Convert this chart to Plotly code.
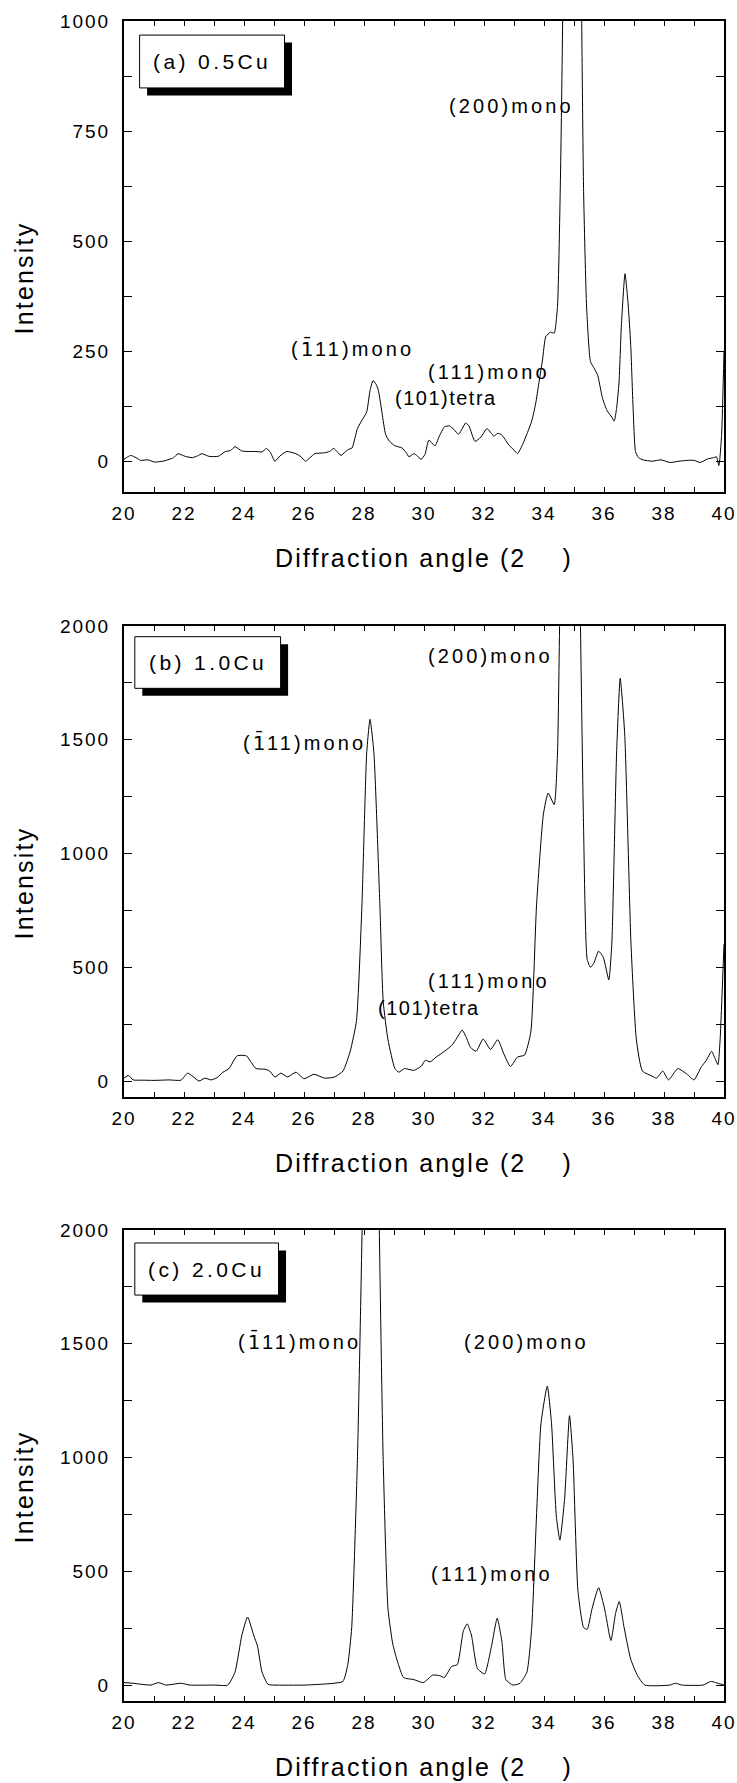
import plotly.graph_objects as go

# ---------------- data ----------------
ANGLE_A = [20.0, 20.12, 20.24, 20.4, 20.55, 20.8, 21.02, 21.3, 21.5, 21.65, 21.8, 22.04, 22.28, 22.45, 22.6,
           22.83, 23.14, 23.38, 23.55, 23.7, 23.93, 24.2, 24.4, 24.6, 24.75, 24.88, 25.03, 25.2, 25.42, 25.73,
           25.9, 26.05, 26.2, 26.36, 26.68, 26.85, 26.99, 27.1, 27.23, 27.46, 27.6, 27.78, 27.95, 28.09, 28.2,
           28.3, 28.4, 28.48, 28.6, 28.72, 28.85, 29.03, 29.27, 29.4, 29.5, 29.66, 29.78, 29.9, 30.03, 30.16,
           30.25, 30.37, 30.5, 30.68, 30.85, 31.0, 31.15, 31.28, 31.39, 31.5, 31.7, 31.9, 32.1, 32.33, 32.45,
           32.57, 32.7, 32.8, 33.0, 33.12, 33.3, 33.45, 33.59, 33.72, 33.83, 33.95, 34.06, 34.22, 34.34, 34.45,
           34.55, 34.63, 34.75, 34.95, 35.1, 35.25, 35.32, 35.42, 35.55, 35.68, 35.79, 35.95, 36.1, 36.26, 36.34,
           36.42, 36.5, 36.58, 36.7, 36.8, 36.89, 36.97, 37.05, 37.15, 37.3, 37.6, 37.9, 38.2, 38.5, 38.8,
           39.0, 39.2, 39.45, 39.65, 39.75, 39.83, 39.92, 40.0]
INTENSITY_A = [4, 10, 13, 8, 2, 3, -2, 0, 4, 8, 17, 11, 8, 12, 17,
               11, 11, 22, 24, 33, 23, 22, 22, 21, 29, 20, 0, 12, 22, 17,
               10, 0, 8, 17, 19, 22, 29, 22, 13, 26, 30, 74, 95, 112, 160,
               183, 175, 161, 110, 61, 45, 35, 30, 20, 10, 17, 12, 4, 15, 48,
               42, 35, 55, 78, 80, 72, 61, 75, 87, 80, 45, 55, 74, 57, 63,
               61, 50, 39, 25, 17, 40, 65, 91, 130, 178, 230, 283, 293, 291, 352,
               650, 1050, 2500, 3500, 2500, 1050, 613, 350, 226, 210, 195, 143, 115, 100, 91,
               120, 178, 309, 426, 360, 265, 120, 22, 8, 3, 0, 3, -3, 0, 2,
               2, -3, 5, 8, 10, -10, 60, 250]

ANGLE_B = [20.0, 20.15, 20.3, 20.6, 21.0, 21.5, 21.9, 22.12, 22.3, 22.5, 22.7, 22.9, 23.1, 23.3, 23.5,
           23.77, 24.08, 24.25, 24.4, 24.7, 24.85, 25.03, 25.23, 25.45, 25.73, 26.0, 26.33, 26.68, 27.0, 27.3,
           27.54, 27.75, 27.93, 28.09, 28.2, 28.33, 28.53, 28.64, 28.8, 29.03, 29.16, 29.35, 29.66, 29.9, 30.05,
           30.2, 30.4, 30.6, 30.92, 31.1, 31.27, 31.4, 31.55, 31.74, 31.97, 32.22, 32.46, 32.65, 32.88, 33.12,
           33.35, 33.56, 33.75, 33.98, 34.14, 34.34, 34.45, 34.53, 34.7, 34.9, 35.1, 35.21, 35.32, 35.44, 35.55,
           35.66, 35.82, 35.98, 36.16, 36.26, 36.42, 36.54, 36.69, 36.9, 37.08, 37.28, 37.6, 37.75, 37.96, 38.15,
           38.46, 38.77, 39.0, 39.25, 39.4, 39.59, 39.7, 39.8, 39.87, 40.0]
INTENSITY_B = [13, 25, 5, 4, 3, 5, 4, 35, 20, 0, 13, 5, 15, 39, 55,
               111, 111, 80, 55, 52, 45, 18, 35, 18, 39, 10, 30, 13, 17, 44,
               131, 266, 770, 1442, 1590, 1442, 770, 350, 181, 55, 39, 55, 47, 64, 92,
               84, 105, 123, 156, 190, 224, 195, 148, 131, 185, 139, 182, 123, 64, 106,
               114, 215, 770, 1173, 1266, 1215, 1442, 2100, 3500, 4000, 3000, 2050, 1106, 534, 500,
               518, 571, 543, 445, 602, 1442, 1770, 1526, 602, 181, 44, 22, 13, 44, 5,
               55, 30, 5, 64, 89, 131, 100, 72, 181, 602]

ANGLE_C = [20.0, 20.3, 20.6, 20.9, 21.15, 21.4, 21.9, 22.2, 23.0, 23.46, 23.7, 23.93, 24.12, 24.32, 24.45,
           24.6, 24.8, 25.0, 26.0, 26.5, 27.0, 27.3, 27.46, 27.59, 27.78, 27.95, 28.1, 28.25, 28.4, 28.5,
           28.64, 28.8, 28.96, 29.11, 29.32, 29.66, 29.98, 30.29, 30.53, 30.68, 30.92, 31.11, 31.31, 31.44, 31.58,
           31.78, 32.02, 32.25, 32.44, 32.6, 32.73, 32.96, 33.2, 33.43, 33.59, 33.75, 33.9, 34.11, 34.25, 34.41,
           34.53, 34.69, 34.85, 34.97, 35.13, 35.32, 35.44, 35.6, 35.82, 36.02, 36.23, 36.39, 36.51, 36.67, 36.89,
           37.12, 37.36, 38.2, 38.38, 38.6, 39.3, 39.56, 39.72, 40.0]
INTENSITY_C = [11, 8, 3, 0, 11, 0, 8, 0, 0, 0, 57, 220, 299, 220, 171,
               57, 3, 0, 0, 3, 8, 16, 90, 253, 988, 2100, 3500, 4200, 3500, 2100,
               988, 335, 180, 106, 33, 24, 11, 44, 41, 33, 82, 90, 237, 269, 220,
               73, 49, 171, 294, 188, 24, 0, 8, 57, 253, 743, 1151, 1314, 1151, 743,
               637, 824, 1184, 988, 416, 253, 245, 335, 428, 335, 196, 318, 367, 253, 114,
               41, 0, 0, 8, 0, 0, 16, 11, 0]

X_TICKS = [20, 22, 24, 26, 28, 30, 32, 34, 36, 38, 40]
X_TICK_LABELS = ["20", "22", "24", "26", "28", "30", "32", "34", "36", "38", "40"]
X_MINOR = [21, 23, 25, 27, 29, 31, 33, 35, 37, 39]
Y_TICKS_A = [0, 250, 500, 750, 1000]
Y_TICK_LABELS_A = ["0", "250", "500", "750", "1000"]
Y_MINOR_A = [125, 375, 625, 875]
Y_TICKS_BC = [0, 500, 1000, 1500, 2000]
Y_TICK_LABELS_BC = ["0", "500", "1000", "1500", "2000"]
Y_MINOR_BC = [250, 750, 1250, 1750]

SAMPLE_LABELS = ["(a) 0.5Cu", "(b) 1.0Cu", "(c) 2.0Cu"]
PEAK_TEXT_A = ["(200)mono", "(1\u030411)mono", "(111)mono", "(101)tetra"]
PEAK_TEXT_B = ["(200)mono", "(1\u030411)mono", "(111)mono", "(101)tetra"]
PEAK_TEXT_C = ["(1\u030411)mono", "(200)mono", "(111)mono"]
X_TITLE = "Diffraction angle (2\u00a0\u00a0\u00a0\u00a0)"
Y_TITLE = "Intensity"

# ---------------- layout geometry ----------------
FONT = "Liberation Sans, Arial, Helvetica, sans-serif"
W, H = 737, 1783
ML, MR, MT, MB = 124, 13, 21, 82
PLOT_W = W - ML - MR
PAPER_H = H - MT - MB
PANEL_H = 471
PANEL_TOPS = [21, 626, 1230]

# annotation anchor positions (data coords)
PEAK_POS_A = [(32.9, 808), (27.6, 256), (32.15, 203), (30.72, 143)]
PEAK_POS_B = [(32.22, 1868), (26.0, 1487), (32.17, 442), (30.18, 319)]
PEAK_POS_C = [(25.86, 1509), (33.42, 1509), (32.25, 490)]
BOXES = [((20.52, 25.35), (848, 968)), ((20.36, 25.22), (1726, 1953)), ((20.36, 25.15), (1714, 1943))]
Y_RANGES = [[-70, 1000], [-70, 2000], [-70, 2000]]


def sp(text, ls):
    return f'<span style="letter-spacing:{ls}px">{text}</span>'


def spaced(text, ls):
    # the barred "1" (base + combining macron) is set in a font with proper
    # mark positioning and without letter-spacing, so the bar stays on the digit
    mark = "\u0304"
    if mark not in text:
        return sp(text, ls)
    k = text.index(mark)
    head, pair, tail = text[:k - 1], text[k - 1:k + 1], text[k + 1:]
    return (sp(head, ls)
            + f'<span style="font-family:DejaVu Sans;letter-spacing:{ls - 1.5}px">{pair}</span>'
            + sp(tail, ls))


def domain(top_px):
    bot_px = top_px + PANEL_H
    return [(H - MB - bot_px) / PAPER_H, (H - MB - top_px) / PAPER_H]


fig = go.Figure()

series = [(ANGLE_A, INTENSITY_A), (ANGLE_B, INTENSITY_B), (ANGLE_C, INTENSITY_C)]
axis_ids = [("x", "y"), ("x2", "y2"), ("x3", "y3")]
for (xs, ys), (xa, ya) in zip(series, axis_ids):
    fig.add_trace(go.Scatter(x=xs, y=ys, mode="lines", xaxis=xa, yaxis=ya,
                             line=dict(color="black", width=1, shape="spline", smoothing=0.5),
                             showlegend=False, hoverinfo="skip"))

common = dict(showline=True, linecolor="black", linewidth=2, mirror="allticks",
              showgrid=False, zeroline=False, ticks="inside", tickcolor="black", tickwidth=1)

y_ticks = [(Y_TICKS_A, Y_TICK_LABELS_A, Y_MINOR_A), (Y_TICKS_BC, Y_TICK_LABELS_BC, Y_MINOR_BC),
           (Y_TICKS_BC, Y_TICK_LABELS_BC, Y_MINOR_BC)]

layout_axes = {}
for i, (xa, ya) in enumerate(axis_ids):
    xname = "xaxis" if i == 0 else f"xaxis{i+1}"
    yname = "yaxis" if i == 0 else f"yaxis{i+1}"
    yt, ytl, ym = y_ticks[i]
    layout_axes[xname] = dict(
        common, domain=[0, 1], anchor=ya, range=[20, 40], tickmode="array",
        tickvals=X_TICKS, ticktext=[sp(t, 2) for t in X_TICK_LABELS], ticklen=5,
        tickfont=dict(family=FONT, size=19, color="black"), ticklabelstandoff=3,
        minor=dict(tickvals=X_MINOR, ticks="inside", ticklen=5, tickcolor="black", tickwidth=1, showgrid=False))
    layout_axes[yname] = dict(
        common, domain=domain(PANEL_TOPS[i]), anchor=xa, range=Y_RANGES[i], tickmode="array",
        tickvals=yt, ticktext=[sp(t, 2) for t in ytl], ticklen=8,
        tickfont=dict(family=FONT, size=19, color="black"), ticklabelstandoff=8,
        minor=dict(tickvals=ym, ticks="inside", ticklen=8, tickcolor="black", tickwidth=1, showgrid=False))

shapes = []
annotations = []
peak_sets = [(PEAK_TEXT_A, PEAK_POS_A), (PEAK_TEXT_B, PEAK_POS_B), (PEAK_TEXT_C, PEAK_POS_C)]
for i, (xa, ya) in enumerate(axis_ids):
    (x0, x1), (y0, y1) = BOXES[i]
    yr = Y_RANGES[i]
    dx = 7.5 * 20 / PLOT_W
    dy = 7.5 * (yr[1] - yr[0]) / PANEL_H
    shapes.append(dict(type="rect", xref=xa, yref=ya, x0=x0 + dx, x1=x1 + dx, y0=y0 - dy, y1=y1 - dy,
                       fillcolor="black", line=dict(width=0), layer="above"))
    shapes.append(dict(type="rect", xref=xa, yref=ya, x0=x0, x1=x1, y0=y0, y1=y1,
                       fillcolor="white", line=dict(color="black", width=1), layer="above"))
    annotations.append(dict(xref=xa, yref=ya, x=(x0 + x1) / 2, y=(y0 + y1) / 2, text=sp(SAMPLE_LABELS[i], 3.4),
                            showarrow=False, xanchor="center", yanchor="middle",
                            font=dict(family=FONT, size=21, color="black")))
    texts, poss = peak_sets[i]
    for t, (px, py) in zip(texts, poss):
        ls = 1.5 if "tetra" in t else 3.1
        annotations.append(dict(xref=xa, yref=ya, x=px, y=py, text=spaced(t, ls), showarrow=False,
                                xanchor="center", yanchor="middle",
                                font=dict(family=FONT, size=20, color="black")))
    dom = domain(PANEL_TOPS[i])
    annotations.append(dict(xref="paper", yref="paper", x=0.5, y=dom[0], yshift=-66, text=sp(X_TITLE, 2.1),
                            showarrow=False, xanchor="center", yanchor="middle",
                            font=dict(family=FONT, size=25, color="black")))
    annotations.append(dict(xref="paper", yref="paper", x=0, xshift=-101, y=(dom[0] + dom[1]) / 2, yshift=-22,
                            text=sp(Y_TITLE, 2.2), textangle=-90, showarrow=False,
                            xanchor="center", yanchor="middle",
                            font=dict(family=FONT, size=25, color="black")))

fig.update_layout(
    width=W, height=H, margin=dict(l=ML, r=MR, t=MT, b=MB, autoexpand=False),
    paper_bgcolor="white", plot_bgcolor="white", showlegend=False,
    shapes=shapes, annotations=annotations, **layout_axes)

fig.write_html("out.html")
